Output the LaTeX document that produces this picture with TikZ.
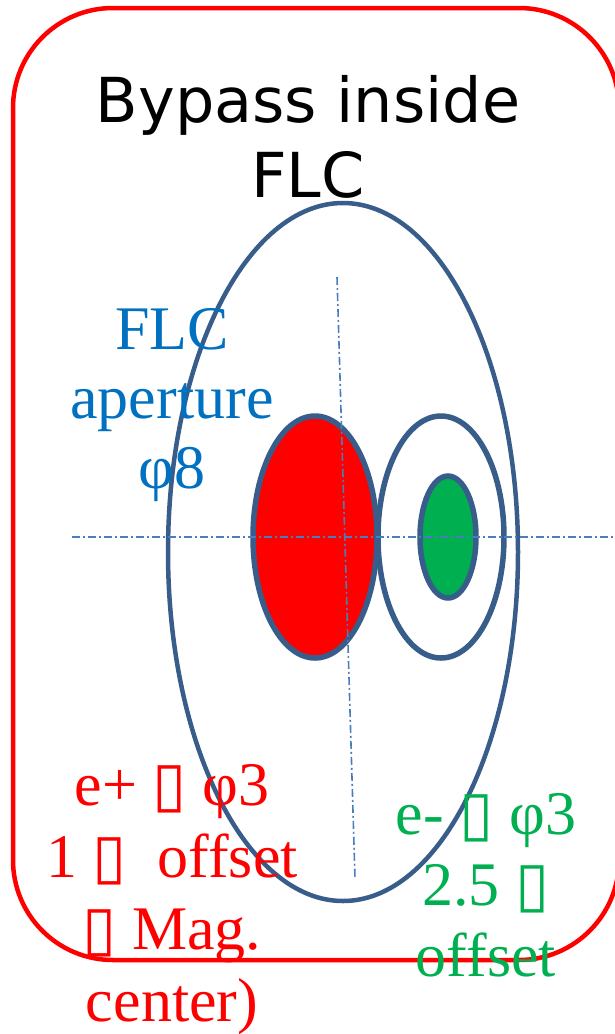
\documentclass[tikz,border=0pt]{standalone}
\usepackage{fontspec}
\setmainfont{Liberation Serif}
\newfontfamily\titlefont{DejaVu Sans}
\newfontfamily\boxfont{DejaVu Sans}
\newcommand{\tofu}{{\boxfont ▯}}
\definecolor{rimblue}{HTML}{385D8A}
\definecolor{axisblue}{HTML}{4A7EBB}
\definecolor{txtblue}{HTML}{0070C0}
\definecolor{pgreen}{HTML}{00B050}
\tikzset{
  frame/.style={draw=red, line width=4.5pt, rounded corners=100pt},
  rim/.style={draw=rimblue, line width=4.5pt},
  beam/.style={draw=rimblue, line width=5.5pt},
  axisline/.style={draw=axisblue, line width=1.6pt, dash pattern=on 8pt off 3pt on 2pt off 3pt},
  lbl/.style={align=center, inner sep=0pt, font=\fontsize{62}{72}\selectfont},
}
\begin{document}
\begin{tikzpicture}[x=1pt,y=-1pt]
\useasboundingbox (0,0) rectangle (615,1034);
\clip (0,0) rectangle (615,1034);
\draw[frame] (13,8) rectangle (619,960);
\node[lbl, font=\titlefont\fontsize{62}{75}\selectfont, anchor=base] (title) at (308,197) {Bypass inside\\FLC};
\draw[rim] (343,552) ellipse [x radius=175, y radius=349];
\coordinate (hL) at (72,537);
\coordinate (hR) at (615,537);
\coordinate (vT) at (337,277);
\coordinate (vB) at (355,878);
\draw[beam, fill=red] (315,537) ellipse [x radius=62, y radius=121];
\draw[beam] (441,537) ellipse [x radius=63, y radius=121];
\draw[beam, fill=pgreen] (448,537) ellipse [x radius=28, y radius=61];
\draw[axisline] (hL) -- (hR);
\draw[axisline] (vT) -- (vB);
\node[lbl, font=\fontsize{62}{69.5}\selectfont, text=txtblue, anchor=base] (aper) at (172,488) {FLC\\aperture\\φ8};
\node[lbl, text=red, anchor=base] (epos) at (172,1021) {e+ \tofu{} φ3\\1 \tofu{}\ \ offset\\\tofu{} Mag.\\center)};
\node[lbl, font=\fontsize{62}{71}\selectfont, text=pgreen, anchor=base] (eneg) at (486,976) {e- \tofu{} φ3\\2.5 \tofu{}\\offset};
\end{tikzpicture}
\end{document}
